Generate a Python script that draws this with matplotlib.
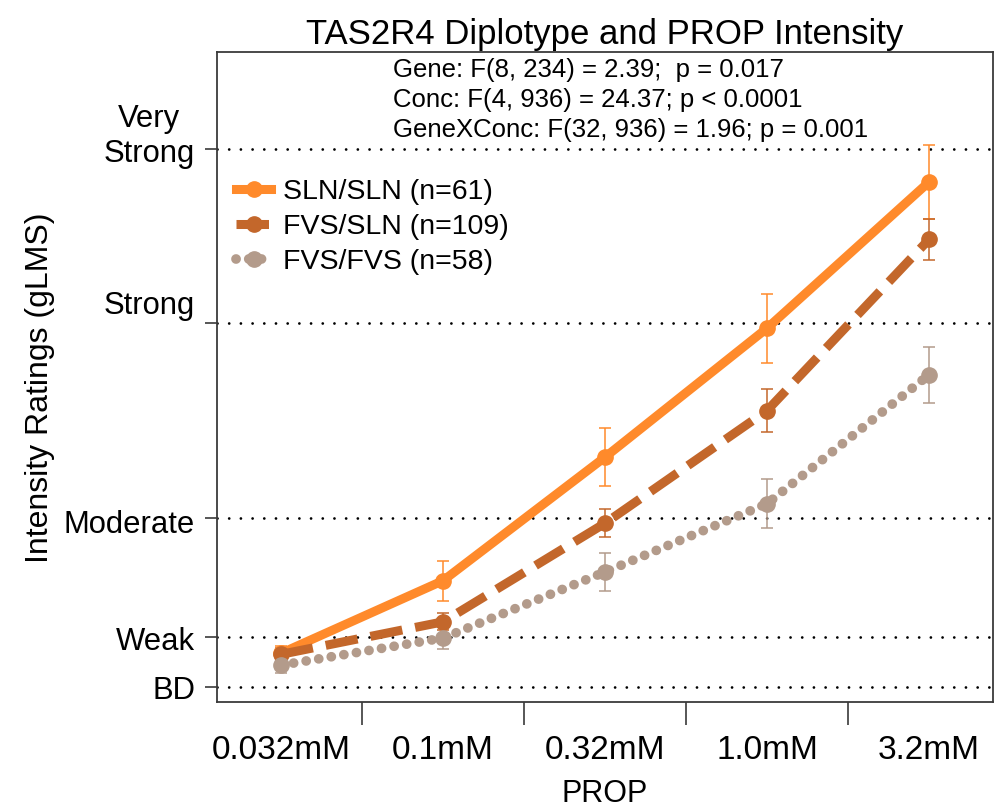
import matplotlib
matplotlib.use('Agg')
import matplotlib.pyplot as plt
import matplotlib.transforms as mtransforms

plt.rcParams['font.family'] = ['Liberation Sans', 'DejaVu Sans']

# data (gLMS ratings, mean +/- SE)
conc_labels = ['0.032mM', '0.1mM', '0.32mM', '1.0mM', '3.2mM']
sln_sln = [4.5, 11.2, 22.6, 34.5, 48.0]
sln_sln_se = [0.65, 1.85, 2.7, 3.2, 3.4]
fvs_sln = [4.4, 7.4, 16.5, 26.9, 42.7]
fvs_sln_se = [0.6, 0.8, 1.3, 1.95, 1.9]
fvs_fvs = [3.4, 5.9, 12.0, 18.3, 30.2]
fvs_fvs_se = [0.7, 1.0, 1.75, 2.25, 2.6]

# gLMS anchors
levels = [1.4, 6, 17, 35, 51]
level_labels = ['BD', 'Weak', 'Moderate', 'Strong', 'Very\nStrong']
label_shift = [-4.5, -5.5, -7, 17, 13]   # px, label offset from its line

stats_lines = ['Gene: F(8, 234) = 2.39;  p = 0.017',
               'Conc: F(4, 936) = 24.37; p < 0.0001',
               'GeneXConc: F(32, 936) = 1.96; p = 0.001']

c_sln = '#FF8A2B'
c_het = '#C3672B'
c_fvs = '#B39B8B'

fig = plt.figure(figsize=(9.95, 8.11), dpi=100)
ax = fig.add_axes([0.2181, 0.1344, 0.7799, 0.8015])

x = list(range(len(conc_labels)))

# dotted reference lines
for lev in levels:
    ax.axhline(lev, color='black', lw=2.0, linestyle=(0, (0.01, 4.2)),
               dash_capstyle='round', zorder=1)

# error bars
ax.errorbar(x, sln_sln, yerr=sln_sln_se, fmt='none', ecolor=c_sln,
            elinewidth=1.1, capsize=4.3, capthick=1.1, zorder=2)
ax.errorbar(x, fvs_sln, yerr=fvs_sln_se, fmt='none', ecolor=c_het,
            elinewidth=1.1, capsize=4.3, capthick=1.1, zorder=2)
ax.errorbar(x, fvs_fvs, yerr=fvs_fvs_se, fmt='none', ecolor=c_fvs,
            elinewidth=1.1, capsize=4.3, capthick=1.1, zorder=2)

# means
ax.plot(x, sln_sln, color=c_sln, lw=6.5, marker='o', ms=11,
        label='SLN/SLN (n=61)', zorder=3)
ax.plot(x, fvs_sln, color=c_het, lw=6.5, marker='o', ms=11,
        linestyle=(0, (3.6, 1.45)), dash_capstyle='butt',
        label='FVS/SLN (n=109)', zorder=3)
ax.plot(x, fvs_fvs, color=c_fvs, lw=7, marker='o', ms=11,
        linestyle=(0, (0.01, 1.3)), dash_capstyle='round',
        label='FVS/FVS (n=58)', zorder=3)

ax.set_xlim(-0.395, 4.395)
ax.set_ylim(0, 60)

# x axis: labels at concentrations, tick marks between them
ax.set_xticks(x)
ax.set_xticklabels(conc_labels)
ax.set_xticks([0.5, 1.5, 2.5, 3.5], minor=True)
ax.tick_params(axis='x', which='major', length=0, pad=24, labelsize=24)
ax.tick_params(axis='x', which='minor', length=16.5, width=1.2, color='#3a3a3a')

# y axis: ticks at anchors, labels drawn as text
ax.set_yticks(levels)
ax.tick_params(axis='y', which='major', length=8.5, width=1.2, color='#3a3a3a',
               labelleft=False)
ytrans = ax.get_yaxis_transform()
for lev, lab, dy in zip(levels, level_labels, label_shift):
    off = mtransforms.ScaledTranslation(-22 / 100, dy / 100, fig.dpi_scale_trans)
    ax.text(0, lev, lab, transform=ytrans + off, ha='right', va='center',
            multialignment='center', fontsize=22.3)

for sp in ax.spines.values():
    sp.set_color('#3a3a3a')
    sp.set_linewidth(1.3)

ax.set_title('TAS2R4 Diplotype and PROP Intensity', fontsize=25, pad=6)
ax.set_xlabel('PROP', fontsize=22)
ax.xaxis.set_label_coords(0.5, -0.119)
ax.set_ylabel('Intensity Ratings (gLMS)', fontsize=23)
ax.yaxis.set_label_coords(-0.209, 0.483)

for txt, yy in zip(stats_lines, [0.9723, 0.9254, 0.88]):
    ax.text(0.2268, yy, txt, transform=ax.transAxes, fontsize=18.5, va='center')

ax.legend(loc='upper left', bbox_to_anchor=(0.0245, 0.804), frameon=False,
          fontsize=20.5, handlelength=1.23, handletextpad=0.42,
          labelspacing=0.31, borderaxespad=0, borderpad=0)

fig.savefig('out.png', dpi=100)
